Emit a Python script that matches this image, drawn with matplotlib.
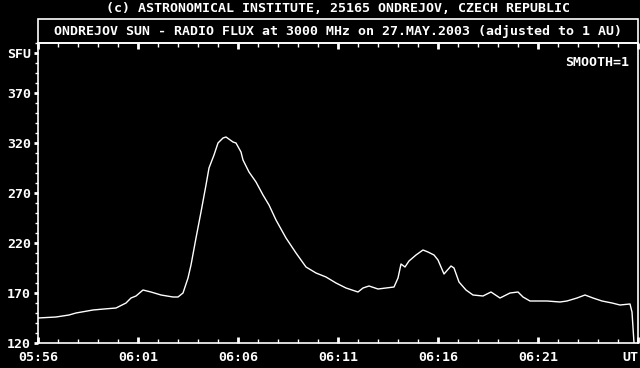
import matplotlib
matplotlib.use("Agg")
import matplotlib.pyplot as plt
from matplotlib.patches import Rectangle
from matplotlib.ticker import MultipleLocator

# minutes after 05:56 UT and flux in SFU
minutes = [0.0, 0.9, 1.55, 1.9, 2.75, 3.3, 3.9, 4.4, 4.65, 4.9, 5.25, 5.65, 6.15,
           6.75, 7.0, 7.25, 7.5, 7.65, 7.9, 8.15, 8.4, 8.55, 8.8, 9.0, 9.25, 9.4,
           9.75, 9.9, 10.15, 10.25, 10.55, 10.9, 11.25, 11.55, 11.9, 12.4, 12.9,
           13.4, 13.9, 14.4, 14.9, 15.4, 15.55, 16.0, 16.25, 16.55, 17.0, 17.4,
           17.8, 18.0, 18.15, 18.35, 18.55, 18.9, 19.25, 19.5, 19.8, 20.0, 20.3,
           20.65, 20.8, 21.05, 21.4, 21.75, 22.25, 22.65, 23.1, 23.6, 24.0, 24.25,
           24.6, 25.45, 26.1, 26.45, 26.95, 27.35, 27.75, 28.2, 28.7, 29.1, 29.6,
           29.7, 29.8]
flux = [145, 146, 148, 150, 153, 154, 155, 160, 165, 167, 173, 171, 168,
        166, 166, 170, 185, 198, 225, 251, 278, 295, 308, 320, 325, 326,
        321, 320, 311, 303, 291, 281, 268, 258, 243, 225, 210,
        196, 190, 186, 180, 175, 174, 171, 175, 177, 174, 175,
        176, 185, 199, 196, 202, 208, 213, 211, 208, 203, 189,
        197, 195, 181, 173, 168, 167, 171, 165, 170, 171, 166,
        162, 162, 161, 162, 165, 168, 165, 162, 160, 158, 159,
        151, 120]

x_labels = ["05:56", "06:01", "06:06", "06:11", "06:16", "06:21", "UT"]
y_ticks = [120, 170, 220, 270, 320, 370, 410]
y_labels = ["120", "170", "220", "270", "320", "370", "SFU"]

W, H = 640, 368
plt.rcParams["font.family"] = "DejaVu Sans Mono"
plt.rcParams["font.weight"] = "bold"
fs = 9.5

fig = plt.figure(figsize=(6.4, 3.68), dpi=100, facecolor="black")
ax = fig.add_axes([38 / W, (H - 343) / H, 600 / W, 300 / H], facecolor="black")

ax.plot(minutes, flux, color="white", lw=1.0)
ax.set_xlim(0, 30)
ax.set_ylim(120, 420)

for s in ax.spines.values():
    s.set_color("white")
    s.set_linewidth(1.2)

ax.set_xticks(range(0, 31, 5))
ax.set_xticklabels(x_labels)
ax.xaxis.set_minor_locator(MultipleLocator(1))
ax.set_yticks(y_ticks)
ax.set_yticklabels(y_labels)
ax.yaxis.set_minor_locator(MultipleLocator(10))

ax.tick_params(axis="x", which="major", direction="in", top=True, length=4, width=2,
               colors="white", labelsize=fs, pad=6)
ax.tick_params(axis="x", which="minor", direction="in", top=True, length=3, width=1,
               colors="white")
ax.tick_params(axis="y", which="major", direction="out", length=3, width=2,
               colors="white", labelsize=fs, pad=2)
ax.tick_params(axis="y", which="minor", direction="out", length=2, width=1,
               colors="white")

labels = ax.get_xticklabels()
labels[-1].set_horizontalalignment("right")

ax.text(0.985, 0.955, "SMOOTH=1", transform=ax.transAxes, color="white",
        fontsize=fs, ha="right", va="top")

# title box above the plot
fig.add_artist(Rectangle((38 / W, (H - 43) / H), 600 / W, 24 / H,
                         transform=fig.transFigure, fill=False,
                         edgecolor="white", lw=1.2))
fig.text(338 / W, 1 - 31 / H,
         "ONDREJOV SUN - RADIO FLUX at 3000 MHz on 27.MAY.2003 (adjusted to 1 AU)",
         color="white", fontsize=fs, ha="center", va="center")
fig.text(338 / W, 1 - 8 / H,
         "(c) ASTRONOMICAL INSTITUTE, 25165 ONDREJOV, CZECH REPUBLIC",
         color="white", fontsize=fs, ha="center", va="center")

fig.savefig("out.png", dpi=100, facecolor="black")
